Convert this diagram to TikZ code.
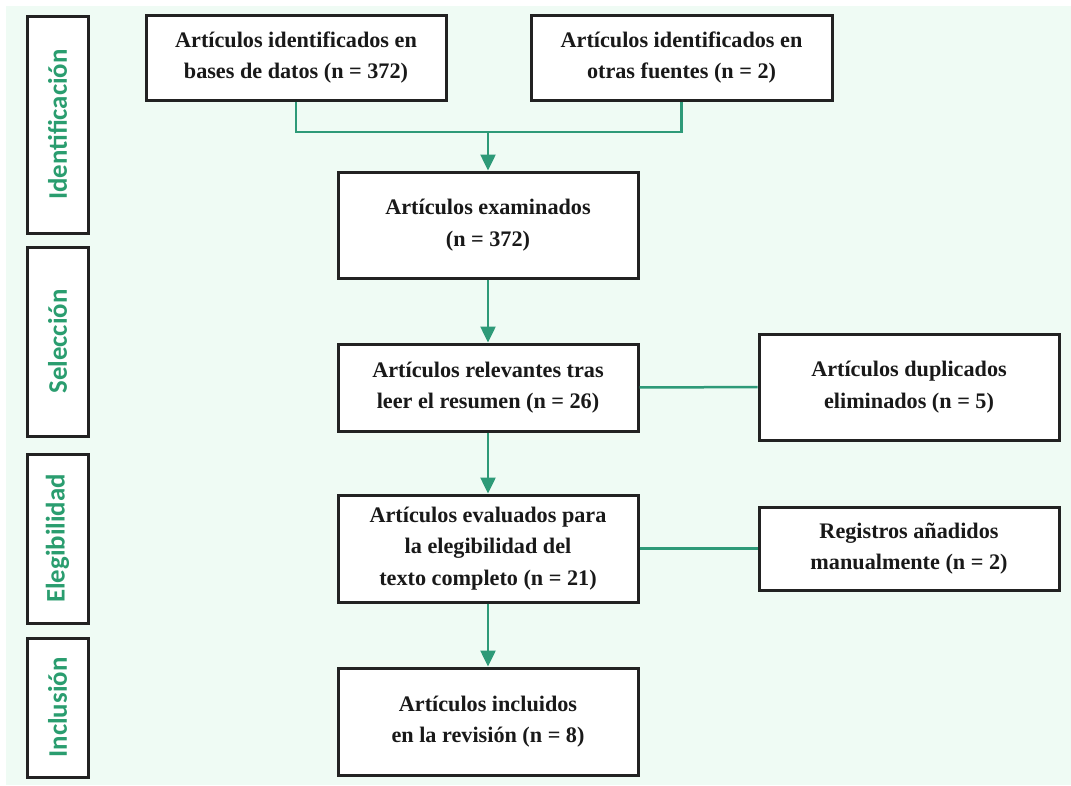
\documentclass[tikz,border=0pt]{standalone}
\usepackage{fontspec}
\setmainfont{Liberation Serif}
\newfontfamily\phasefont{Carlito}
\usetikzlibrary{arrows.meta}

\definecolor{mint}{HTML}{EFFBF4}
\definecolor{flowgreen}{HTML}{2E9A78}
\definecolor{phasegreen}{HTML}{2A9D6F}
\definecolor{boxline}{HTML}{222222}

\begin{document}
\begin{tikzpicture}[x=1pt,y=-1pt,
  stagebox/.style={draw=boxline,line width=3pt,fill=white,align=center,
    inner sep=0pt,font=\fontsize{22.2}{31.5}\selectfont\bfseries,text=black!90},
  phasebox/.style={draw=boxline,line width=3pt,fill=white,inner sep=0pt,
    minimum height=61pt,rotate=90,font=\phasefont\fontsize{26.8}{30}\selectfont\bfseries,
    text=phasegreen},
  flow/.style={draw=flowgreen,line width=2.5pt},
  flowarrow/.style={flow,-{Triangle[length=16pt,width=15pt]}}]
% 1px of the reference = 1pt, y running down the page
\useasboundingbox (0,0) rectangle (1071,785);
\fill[mint] (6,6) rectangle (1071,785);

% phase column on the left
\node[phasebox,minimum width=217pt] (ident) at (57.5,124.5) {Identificación};
\node[phasebox,minimum width=189pt] (selec) at (57.5,341.5) {Selección};
\node[phasebox,minimum width=169pt] (elegi) at (57.5,538.5) {Elegibilidad};
\node[phasebox,minimum width=139pt] (inclu) at (57.5,707.5) {Inclusión};

% main column
\node[stagebox,minimum width=300pt,minimum height=85pt] (dbase) at (296,57.5)
  {Artículos identificados en\\bases de datos (n = 372)};
\node[stagebox,minimum width=301pt,minimum height=85pt] (other) at (681.5,57.5)
  {Artículos identificados en\\otras fuentes (n = 2)};
\node[stagebox,minimum width=300pt,minimum height=106pt] (screen) at (488,225)
  {Artículos examinados\\(n = 372)};
\node[stagebox,minimum width=300pt,minimum height=87pt] (abstr) at (488,387.5)
  {Artículos relevantes tras\\leer el resumen (n = 26)};
\node[stagebox,minimum width=300pt,minimum height=107pt] (elig) at (488,548.5)
  {Artículos evaluados para\\la elegibilidad del\\texto completo (n = 21)};
\node[stagebox,minimum width=300pt,minimum height=107pt] (incl) at (488,721.5)
  {Artículos incluidos\\en la revisión (n = 8)};

% side boxes
\node[stagebox,minimum width=300pt,minimum height=106pt] (dupl) at (909,387)
  {Artículos duplicados\\eliminados (n = 5)};
\node[stagebox,minimum width=300pt,minimum height=83pt] (manual) at (909,548.5)
  {Registros añadidos\\manualmente (n = 2)};

% connectors
\coordinate (merge) at (488,132);
\draw[flow] (dbase.south) |- (merge) -| (other.south);
\draw[flowarrow] (merge) -- (screen.north);
\draw[flowarrow] (screen) -- (abstr);
\draw[flowarrow] (abstr) -- (elig);
\draw[flowarrow] (elig) -- (incl);
\draw[flow] (abstr) -- (dupl);
\draw[flow] (elig) -- (manual);
\end{tikzpicture}
\end{document}
